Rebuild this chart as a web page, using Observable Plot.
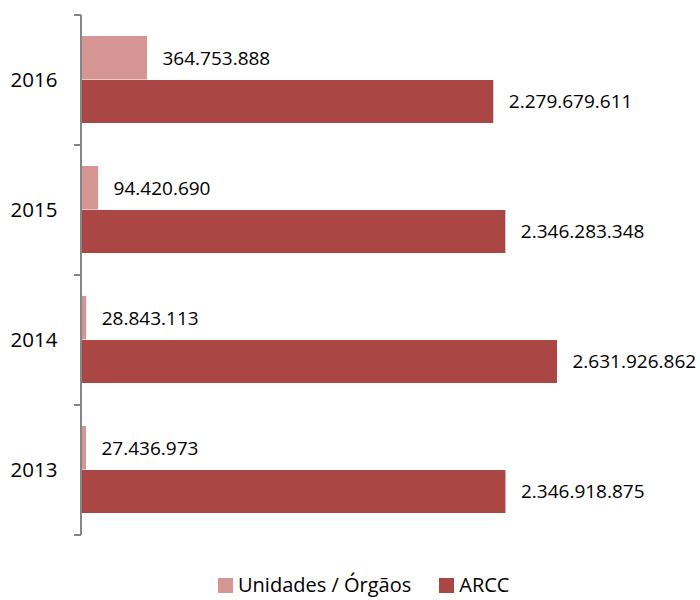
<!DOCTYPE html>
<html>
<head>
<meta charset="utf-8">
<script src="https://cdn.jsdelivr.net/npm/d3@7"></script>
<script src="https://cdn.jsdelivr.net/npm/@observablehq/plot@0.6"></script>
<style>
  body { margin: 0; background: #fff; font-family: "Open Sans", sans-serif; }
  #chart svg { display: block; }
  #legend { display: flex; align-items: center; height: 24px; line-height: 24px; padding-left: 218px; font-size: 20px; color: #000; }
  .sw { width: 15px; height: 15px; display: inline-block; margin-right: 5px; }
  .item { display: flex; align-items: center; margin-right: 28px; }
</style>
</head>
<body>
<div id="chart"></div>
<div id="legend"></div>
<script>
const years = ["2016", "2015", "2014", "2013"];
const unidades = [364753888, 94420690, 28843113, 27436973];
const arcc = [2279679611, 2346283348, 2631926862, 2346918875];
const seriesNames = ["Unidades / Órgãos", "ARCC"];
const colors = ["#D59593", "#AA4644"];

const fmt = v => d3.format(",")(v).replace(/,/g, ".");

const rowsU = years.map((y, i) => ({year: y, value: unidades[i]}));
const rowsA = years.map((y, i) => ({year: y, value: arcc[i]}));

// axis line with ticks at category boundaries, positioned by the y band scale
function boundaryAxis(index, scales, values, dimensions) {
  const y = scales.y, x = scales.x;
  const starts = years.map(d => y(d));
  const step = starts[1] - starts[0];
  const bounds = [...starts, starts[starts.length - 1] + step];
  const x0 = x(0);
  const g = d3.create("svg:g").attr("stroke", "#868686").attr("stroke-width", 2).attr("fill", "none");
  g.append("line").attr("x1", x0).attr("x2", x0).attr("y1", bounds[0]).attr("y2", bounds[bounds.length - 1]);
  for (const b of bounds) g.append("line").attr("x1", x0 - 7).attr("x2", x0).attr("y1", b).attr("y2", b);
  return g.node();
}

const chart = Plot.plot({
  width: 700,
  height: 573,
  marginTop: 14,
  marginBottom: 38,
  marginLeft: 81,
  marginRight: 143,
  style: {fontFamily: "Open Sans, sans-serif", background: "#fff"},
  x: {domain: [0, 2631926862], axis: null},
  y: {domain: years, padding: 0, label: null},
  marks: [
    Plot.barX(rowsU, {y: "year", x1: 0, x2: "value", fill: colors[0], insetTop: 21, insetBottom: 65.5}),
    Plot.barX(rowsA, {y: "year", x1: 0, x2: "value", fill: colors[1], insetTop: 65, insetBottom: 22}),
    Plot.text(rowsU, {y: "year", x: "value", text: d => fmt(d.value), dx: 15, dy: -22, textAnchor: "start", fontSize: 19, fill: "#000"}),
    Plot.text(rowsA, {y: "year", x: "value", text: d => fmt(d.value), dx: 15, dy: 21, textAnchor: "start", fontSize: 19, fill: "#000"}),
    Plot.axisY({tickSize: 0, tickPadding: 24, fontSize: 20.5, label: null, color: "#000"}),
    boundaryAxis
  ]
});
document.getElementById("chart").appendChild(chart);

const legend = document.getElementById("legend");
seriesNames.forEach((name, i) => {
  const item = document.createElement("span");
  item.className = "item";
  const sw = document.createElement("span");
  sw.className = "sw";
  sw.style.background = colors[i];
  item.appendChild(sw);
  item.appendChild(document.createTextNode(name));
  legend.appendChild(item);
});
</script>
</body>
</html>
